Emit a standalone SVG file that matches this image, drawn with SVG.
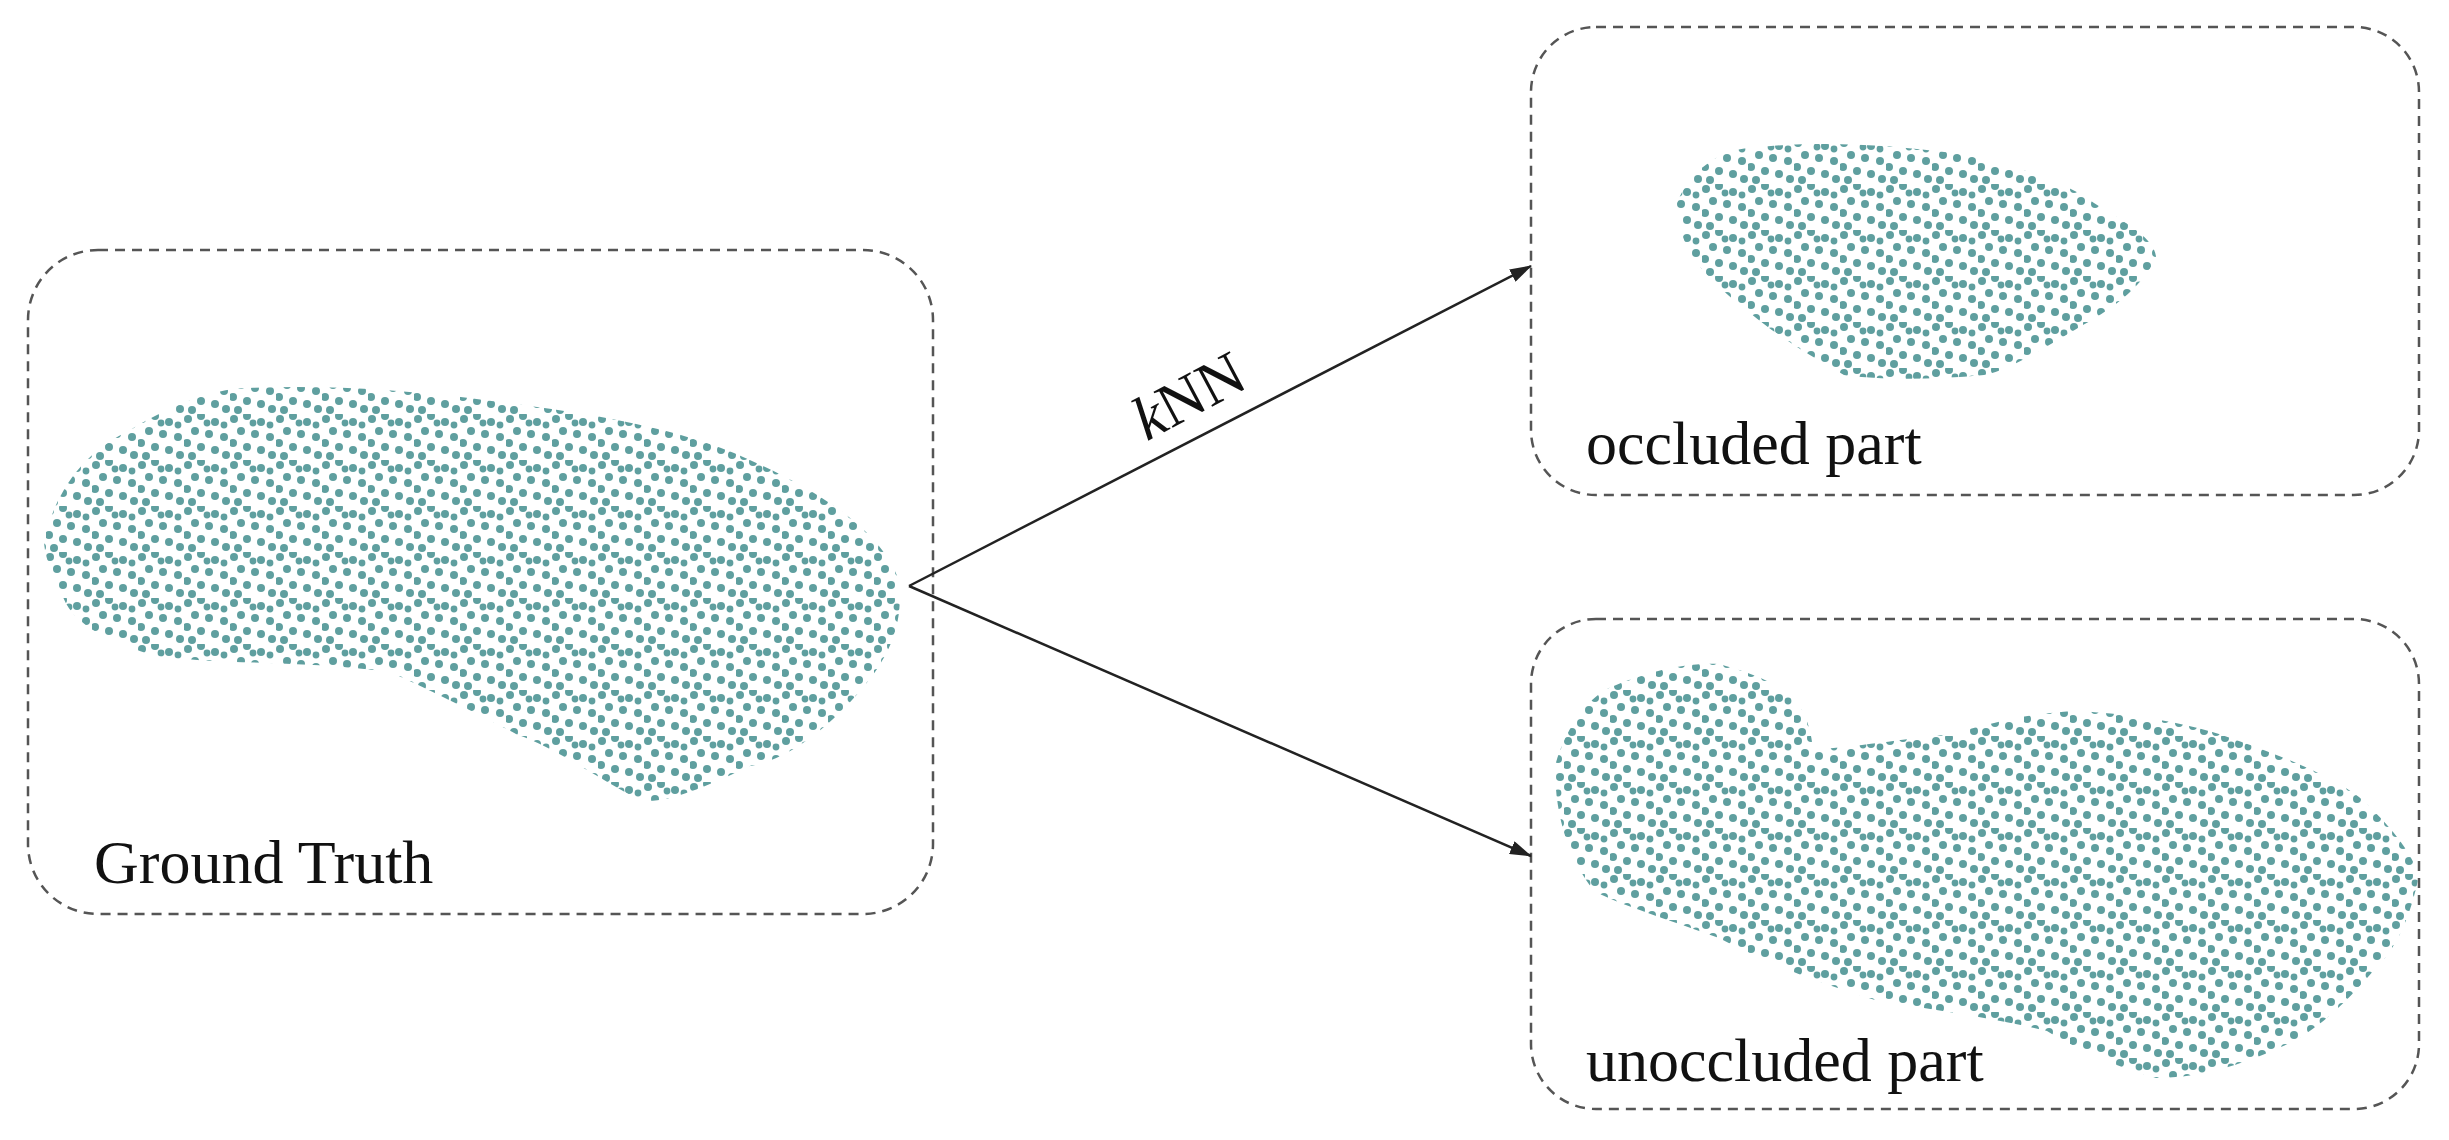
<svg xmlns="http://www.w3.org/2000/svg" width="2449" height="1140" viewBox="0 0 2449 1140">
<style>
.box{fill:none;stroke:#555;stroke-width:2.5;stroke-dasharray:10 7}
.lbl{font-family:"Liberation Serif",serif;font-size:62px;fill:#111}
.edge{stroke:#222;stroke-width:2.5;fill:none}
</style>
<defs>
<pattern id="dots" width="46" height="46" patternUnits="userSpaceOnUse">
<g fill="#5f9f9f">
<circle cx="4" cy="5" r="4"/><circle cx="17" cy="2" r="4"/><circle cx="31" cy="8" r="4"/>
<circle cx="11" cy="17" r="4"/><circle cx="25" cy="20" r="4"/><circle cx="40" cy="23" r="4"/>
<circle cx="3" cy="29" r="4"/><circle cx="17" cy="33" r="4"/><circle cx="31" cy="36" r="4"/>
<circle cx="8" cy="42" r="4"/><circle cx="42" cy="41" r="4"/><circle cx="23" cy="9" r="3.4"/>
<circle cx="40" cy="11" r="3.4"/>
</g>
</pattern>
<marker id="arr" markerWidth="22" markerHeight="14" refX="21" refY="7" orient="auto" markerUnits="userSpaceOnUse" viewBox="0 0 22 14">
<path d="M0,0 L22,7 L0,14 z" fill="#222"/>
</marker>
</defs>
<rect width="2449" height="1140" fill="#fff"/>
<g id="ground-truth">
<rect class="box" x="28" y="250" width="905" height="664" rx="70"/>
<path fill="url(#dots)" d="M44,539 C60,480 90,450 130,430 C180,400 220,388 250,388 C330,385 400,390 469,398 C560,410 650,420 734,453 C820,490 880,530 898,578 C905,620 890,650 875,672 C840,720 790,760 750,766 C700,790 660,805 640,800 C600,780 560,750 516,734 C470,710 430,690 390,672 C300,660 220,665 156,656 C100,640 70,620 62,594 C50,570 44,555 44,539 Z"/>
<text class="lbl" x="94" y="883">Ground Truth</text>
</g>
<g id="occluded">
<rect class="box" x="1531" y="27" width="888" height="468" rx="65"/>
<path fill="url(#dots)" d="M1677,203 C1690,170 1720,150 1750,148 C1820,140 1890,145 1953,153 C2020,165 2070,185 2094,203 C2130,225 2156,240 2156,258 C2140,290 2110,310 2078,328 C2040,350 2010,370 1984,375 C1930,380 1880,380 1844,375 C1800,350 1770,330 1750,313 C1720,290 1700,270 1688,250 C1680,230 1675,215 1677,203 Z"/>
<text class="lbl" x="1586" y="464">occluded part</text>
</g>
<g id="unoccluded">
<rect class="box" x="1531" y="619" width="888" height="490" rx="65"/>
<path fill="url(#dots)" d="M1555,766 C1565,730 1585,700 1609,688 C1650,670 1690,662 1719,664 C1760,675 1790,690 1797,703 C1810,720 1812,740 1813,750 C1870,745 1910,738 1953,734 C2000,720 2040,712 2078,711 C2140,715 2180,722 2219,734 C2280,755 2330,775 2359,797 C2390,825 2410,850 2419,875 C2410,920 2395,950 2375,969 C2340,1010 2310,1035 2281,1047 C2230,1070 2190,1078 2156,1078 C2110,1065 2070,1045 2047,1031 C1980,1015 1920,1008 1875,1000 C1810,980 1760,960 1719,938 C1670,920 1620,905 1594,891 C1570,860 1555,820 1555,766 Z"/>
<text class="lbl" x="1586" y="1081">unoccluded part</text>
</g>
<g id="connectors">
<path class="edge" d="M909,586 L1531,266" marker-end="url(#arr)"/>
<path class="edge" d="M909,586 L1531,856" marker-end="url(#arr)"/>
<text class="lbl" x="1190" y="416" text-anchor="middle" transform="rotate(-28 1190 398)"><tspan font-style="italic">k</tspan>NN</text>
</g>
</svg>
